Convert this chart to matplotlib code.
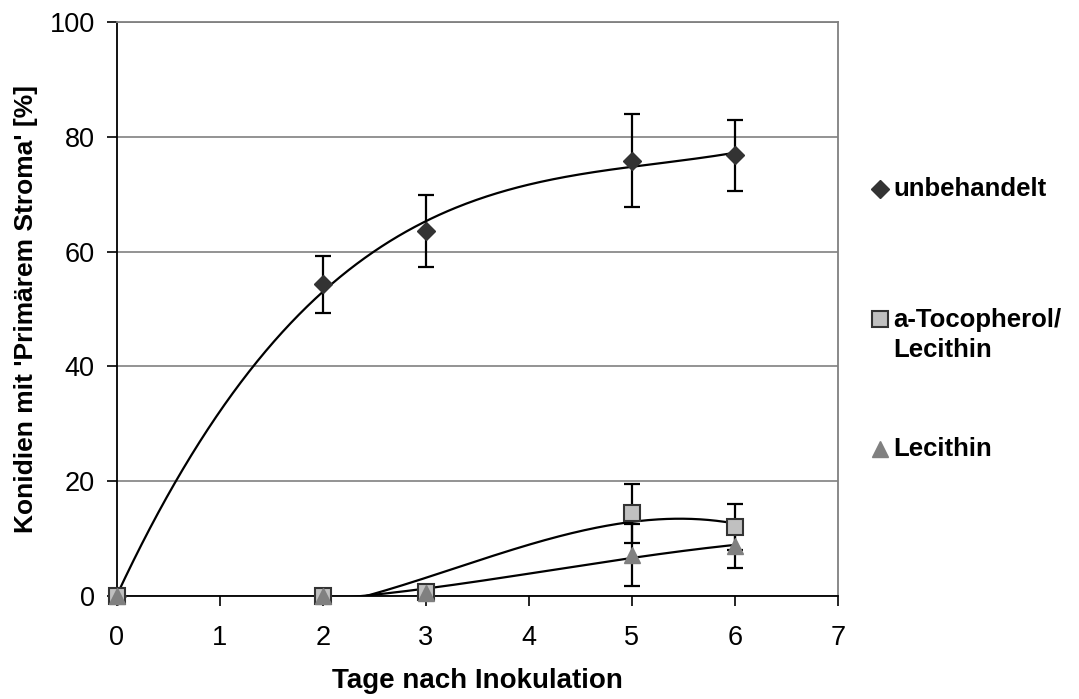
import numpy as np
import matplotlib.pyplot as plt
from matplotlib.lines import Line2D

plt.rcParams['font.family'] = ['Liberation Sans', 'DejaVu Sans']

# days after inoculation
tage = [0, 2, 3, 5, 6]

# unbehandelt
unbeh = [0, 54.3, 63.6, 75.8, 76.8]
unbeh_err = [0, 5.0, 6.3, 8.1, 6.2]

# a-Tocopherol / Lecithin
toco = [0, 0, 0.7, 14.4, 12.0]
toco_err = [0, 0, 0, 5.1, 4.0]

# Lecithin
leci = [0, 0, 0.5, 7.1, 8.7]
leci_err = [0, 0, 0, 5.4, 3.8]

fig = plt.figure(figsize=(10.79, 6.99), dpi=100)
ax = fig.add_axes([0.1084, 0.1474, 0.6682, 0.8211])

# polynomial trend lines (clipped at 0 by the axis)
xs = np.linspace(0, 6, 300)
for y in [unbeh, toco, leci]:
    p = np.polyfit(tage, y, 3)
    ax.plot(xs, np.polyval(p, xs), color='black', lw=1.6, zorder=3)

for y, e in [(unbeh, unbeh_err), (toco, toco_err), (leci, leci_err)]:
    ax.errorbar(tage, y, yerr=e, fmt='none', ecolor='black',
                elinewidth=1.6, capsize=6, capthick=1.6, zorder=2)

ax.plot(tage, unbeh, 'D', color='#333333', ms=9, ls='none', zorder=4, clip_on=False)
ax.plot(tage, toco, 's', mfc='#c0c0c0', mec='#333333', mew=1.5, ms=11, ls='none', zorder=4, clip_on=False)
ax.plot(tage, leci, '^', color='#808080', ms=11, ls='none', zorder=5, clip_on=False)

ax.set_xlim(0, 7)
ax.set_ylim(0, 100)
ax.set_xticks(range(0, 8))
ax.set_yticks(range(0, 101, 20))
ax.yaxis.grid(True, color='#808080', lw=1.2)
ax.set_axisbelow(True)
ax.tick_params(direction='out', length=7, width=1.2, labelsize=19.5)
ax.tick_params(axis='x', pad=14)
ax.tick_params(axis='y', pad=9)
for s in ['left', 'bottom']:
    ax.spines[s].set_linewidth(1.3)
for s in ['right', 'top']:
    ax.spines[s].set_color('#808080')
    ax.spines[s].set_linewidth(1.3)

ax.set_xlabel('Tage nach Inokulation', fontsize=20, fontweight='bold', labelpad=12)
ax.set_ylabel("Konidien mit 'Primärem Stroma' [%]", fontsize=19, fontweight='bold', labelpad=8)

# legend drawn by hand
W, H = 1079, 699
items = [('D', dict(color='#333333', ms=9), 'unbehandelt', 189, 189),
         ('s', dict(mfc='#c0c0c0', mec='#333333', mew=1.5, ms=11), 'a-Tocopherol/\nLecithin', 335, 319),
         ('^', dict(color='#808080', ms=11), 'Lecithin', 449, 449)]
for m, kw, lab, ypx, ympx in items:
    fig.add_artist(Line2D([880 / W], [1 - ympx / H], marker=m, ls='none',
                          transform=fig.transFigure, **kw))
    fig.text(893 / W, 1 - ypx / H, lab, fontsize=18.5, fontweight='bold',
             va='center', ha='left', linespacing=1.35)

fig.savefig('out.png', dpi=100)
